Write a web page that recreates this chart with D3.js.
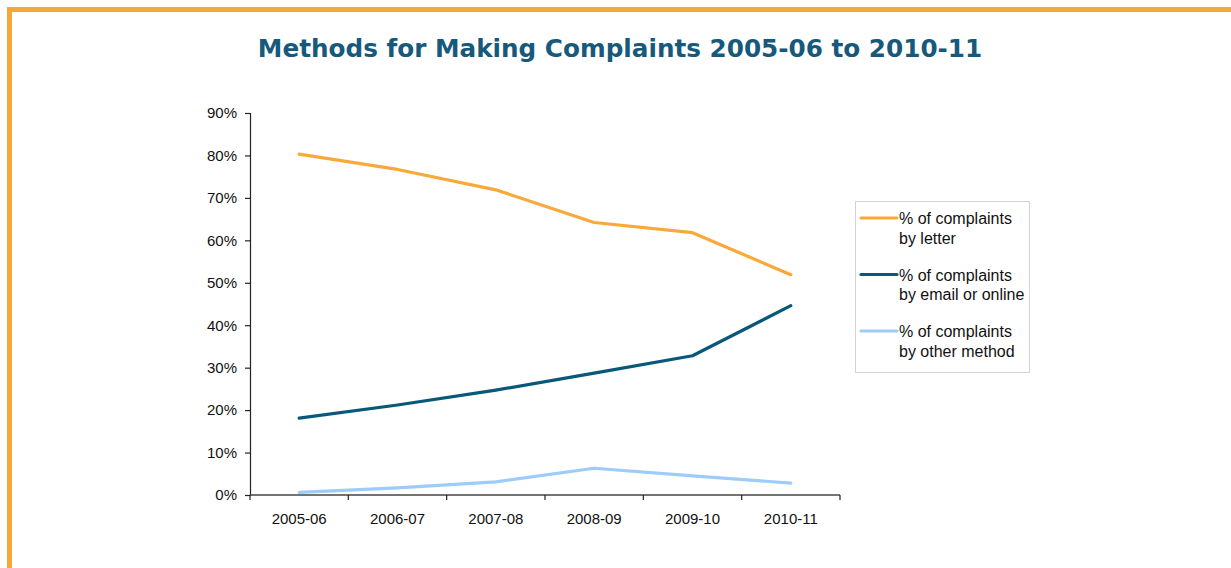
<!DOCTYPE html>
<html>
<head>
<meta charset="utf-8">
<script src="https://cdn.jsdelivr.net/npm/d3@7"></script>
<style>
  html, body { margin: 0; padding: 0; background: #fff; }
  svg { display: block; }
</style>
</head>
<body>
<svg id="chart" width="1231" height="568"></svg>
<script>
// Fiscal years on the x axis
const years = ["2005-06", "2006-07", "2007-08", "2008-09", "2009-10", "2010-11"];

// Share of complaints by method (%)
const byLetter = [80.3, 76.7, 71.9, 64.2, 61.8, 51.9];
const byEmailOnline = [18.1, 21.2, 24.7, 28.7, 32.8, 44.6];
const byOther = [0.6, 1.7, 3.1, 6.3, 4.5, 2.8];

const seriesNames = [
  ["% of complaints", "by letter"],
  ["% of complaints", "by email or online"],
  ["% of complaints", "by other method"]
];
const seriesColors = ["#F9A93A", "#08587A", "#9DCCFA"];
const yTicks = [0, 10, 20, 30, 40, 50, 60, 70, 80, 90];

const series = [byLetter, byEmailOnline, byOther];

const svg = d3.select("#chart");

// Orange frame, running off the right and bottom edges
svg.append("path")
  .attr("d", "M9.5,1300 L9.5,9.5 L1300,9.5")
  .attr("fill", "none")
  .attr("stroke", "#F7A738")
  .attr("stroke-width", 5);

// Title
svg.append("text")
  .attr("x", 620)
  .attr("y", 57)
  .attr("text-anchor", "middle")
  .attr("font-family", "DejaVu Sans, Verdana, sans-serif")
  .attr("font-weight", "bold")
  .attr("font-size", 24.7)
  .attr("fill", "#16597A")
  .text("Methods for Making Complaints 2005-06 to 2010-11");

const plot = { left: 250, right: 840, top: 113, bottom: 495 };

const x = d3.scaleBand().domain(years).range([plot.left, plot.right]).padding(0);
const y = d3.scaleLinear().domain([0, 90]).range([plot.bottom, plot.top]);

// Y axis
const yAxis = svg.append("g")
  .attr("transform", `translate(${plot.left},0)`)
  .call(d3.axisLeft(y).tickValues(yTicks).tickFormat(d => d + "%").tickSize(5).tickPadding(8));
yAxis.selectAll("path, line").attr("stroke", "#222").attr("stroke-width", 1.2);
yAxis.selectAll("text")
  .attr("font-family", "Liberation Sans, Arial, sans-serif")
  .attr("font-size", 15)
  .attr("fill", "#111");

// X axis with ticks on category boundaries
const xAxisG = svg.append("g")
  .attr("transform", `translate(0,${plot.bottom})`);
xAxisG.append("line")
  .attr("x1", plot.left).attr("x2", plot.right)
  .attr("stroke", "#444").attr("stroke-width", 1.5);
const bounds = years.map(d => x(d)).concat([plot.right]);
xAxisG.selectAll("line.tick")
  .data(bounds)
  .join("line")
  .attr("class", "tick")
  .attr("x1", d => d).attr("x2", d => d)
  .attr("y1", 0).attr("y2", 5)
  .attr("stroke", "#222").attr("stroke-width", 1.2);
xAxisG.selectAll("text")
  .data(years)
  .join("text")
  .attr("x", d => x(d) + x.bandwidth() / 2)
  .attr("y", 29)
  .attr("text-anchor", "middle")
  .attr("font-family", "Liberation Sans, Arial, sans-serif")
  .attr("font-size", 15)
  .attr("fill", "#111")
  .text(d => d);

// Lines
const line = d3.line()
  .x((d, i) => x(years[i]) + x.bandwidth() / 2)
  .y(d => y(d));

svg.selectAll("path.series")
  .data(series)
  .join("path")
  .attr("class", "series")
  .attr("d", d => line(d))
  .attr("fill", "none")
  .attr("stroke", (d, i) => seriesColors[i])
  .attr("stroke-width", 3.2)
  .attr("stroke-linejoin", "round")
  .attr("stroke-linecap", "round");

// Legend
const legend = svg.append("g");
legend.append("rect")
  .attr("x", 855.5).attr("y", 201.5)
  .attr("width", 174).attr("height", 171)
  .attr("fill", "#fff")
  .attr("stroke", "#D0D4D8")
  .attr("stroke-width", 1);

const items = legend.selectAll("g.item")
  .data(seriesNames)
  .join("g")
  .attr("class", "item")
  .attr("transform", (d, i) => `translate(0,${218 + i * 56.5})`);
items.append("line")
  .attr("x1", 861).attr("x2", 897)
  .attr("stroke", (d, i) => seriesColors[i])
  .attr("stroke-width", 3.2)
  .attr("stroke-linecap", "round");
items.append("text")
  .attr("x", 899)
  .attr("y", 6)
  .attr("font-family", "Liberation Sans, Arial, sans-serif")
  .attr("font-size", 16)
  .attr("fill", "#111")
  .selectAll("tspan")
  .data(d => d)
  .join("tspan")
  .attr("x", 899)
  .attr("dy", (d, i) => i === 0 ? 0 : 19.5)
  .text(d => d);
</script>
</body>
</html>
